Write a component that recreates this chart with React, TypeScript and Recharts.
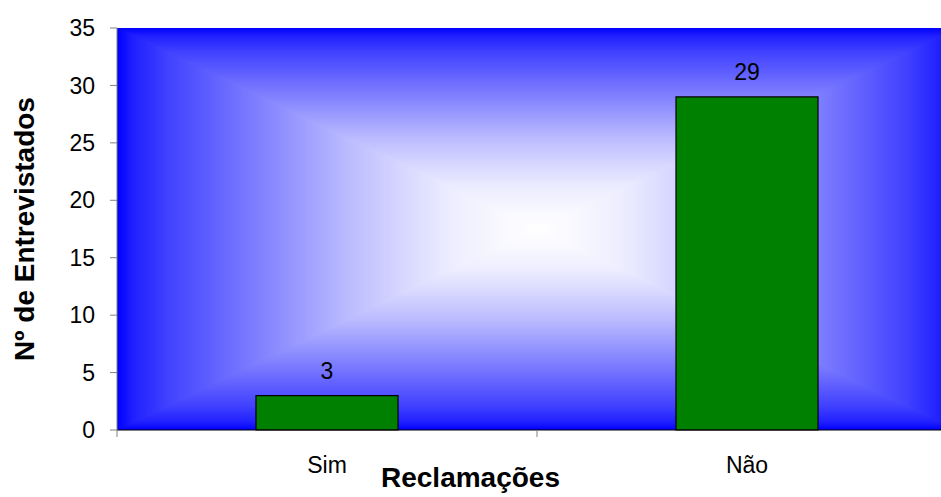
import React from 'react';
import { BarChart, Bar, XAxis, YAxis, CartesianGrid, LabelList, Label } from 'recharts';

const categories = ['Sim', 'Não'];
const respondents = [3, 29];
const yTicks = [0, 5, 10, 15, 20, 25, 30, 35];

const data = categories.map((name, i) => ({ name, value: respondents[i] }));

const FONT = '"Liberation Sans", Arial, Helvetica, sans-serif';

// edge -> centre colour ramp for the rectangular "from centre" fill
const ramp = [
  { offset: 0, color: '#0000ff' },
  { offset: 0.04, color: '#2020ff' },
  { offset: 0.12, color: '#4141ff' },
  { offset: 0.26, color: '#6a6aff' },
  { offset: 0.43, color: '#9a9aff' },
  { offset: 0.55, color: '#bbbbff' },
  { offset: 0.67, color: '#d5d5ff' },
  { offset: 0.79, color: '#ececff' },
  { offset: 0.91, color: '#f8f8ff' },
  { offset: 1, color: '#ffffff' },
];

const Ramp = ({ id, x1, y1, x2, y2 }: { id: string; x1: number; y1: number; x2: number; y2: number }) => (
  <linearGradient id={id} x1={x1} y1={y1} x2={x2} y2={y2}>
    {ramp.map((s) => (
      <stop key={s.offset} offset={s.offset} stopColor={s.color} />
    ))}
  </linearGradient>
);

// category label plus tick marks on the band boundaries
const CategoryTick = (props: any) => {
  const { x, y, payload, index, visibleTicksCount } = props;
  const half = payload?.offset ?? 0;
  return (
    <g>
      {half > 0 && <line x1={x - half} y1={y} x2={x - half} y2={y + 7} stroke="#808080" />}
      {half > 0 && index === visibleTicksCount - 1 && (
        <line x1={x + half} y1={y} x2={x + half} y2={y + 7} stroke="#808080" />
      )}
      <text x={x} y={y + 27} dy="0.71em" textAnchor="middle" fontSize={23} fontFamily={FONT} fill="#000">
        {payload.value}
      </text>
    </g>
  );
};

const YTitle = (props: any) => {
  const vb = props.viewBox || { x: 0, y: 0, height: 0 };
  const cx = vb.x + 34;
  const cy = vb.y + vb.height / 2;
  return (
    <text
      x={cx}
      y={cy}
      transform={`rotate(-90, ${cx}, ${cy})`}
      textAnchor="middle"
      fontSize={28}
      fontWeight="bold"
      fontFamily={FONT}
      fill="#000"
    >
      Nº de Entrevistados
    </text>
  );
};

export default function App() {
  return (
    <div style={{ position: 'absolute', left: 0, top: 0, width: 941, height: 497, overflow: 'hidden', background: '#fff' }}>
      <BarChart width={980} height={497} data={data} margin={{ top: 28, right: 23, left: 0, bottom: 0 }}>
        <defs>
          <Ramp id="rampTop" x1={0} y1={0} x2={0} y2={1} />
          <Ramp id="rampBottom" x1={0} y1={1} x2={0} y2={0} />
          <Ramp id="rampLeft" x1={0} y1={0} x2={1} y2={0} />
          <Ramp id="rampRight" x1={1} y1={0} x2={0} y2={0} />
          {/* side halves first, then top/bottom wedges over them so the seams blend */}
          <pattern id="plotFill" patternUnits="objectBoundingBox" patternContentUnits="objectBoundingBox" width={1} height={1}>
            <rect x={0} y={0} width={0.5} height={1} fill="url(#rampLeft)" />
            <rect x={0.5} y={0} width={0.5} height={1} fill="url(#rampRight)" />
            <polygon points="0,0 1,0 0.5,0.5" fill="url(#rampTop)" />
            <polygon points="0,1 1,1 0.5,0.5" fill="url(#rampBottom)" />
          </pattern>
        </defs>
        <CartesianGrid horizontal={false} vertical={false} fill="url(#plotFill)" fillOpacity={1} />
        <XAxis
          dataKey="name"
          height={67}
          axisLine={{ stroke: '#000' }}
          tickLine={false}
          tickSize={0}
          tickMargin={0}
          interval={0}
          tick={<CategoryTick />}
        />
        <YAxis
          width={117}
          domain={[0, 35]}
          ticks={yTicks}
          interval={0}
          axisLine={{ stroke: '#808080' }}
          tickLine={{ stroke: '#808080' }}
          tickSize={7}
          tickMargin={15}
          tick={{ fontSize: 23, fontFamily: FONT, fill: '#000' }}
        >
          <Label content={<YTitle />} />
        </YAxis>
        <Bar dataKey="value" fill="#008000" stroke="#000" strokeWidth={1.2} barSize={142} isAnimationActive={false}>
          <LabelList dataKey="value" position="top" offset={17} fontSize={23} fontFamily={FONT} fill="#000" />
        </Bar>
      </BarChart>
      <div
        style={{
          position: 'absolute',
          left: 0,
          top: 464,
          width: 941,
          textAlign: 'center',
          fontFamily: FONT,
          fontWeight: 'bold',
          fontSize: 28,
          lineHeight: '28px',
          color: '#000',
        }}
      >
        Reclamações
      </div>
    </div>
  );
}
